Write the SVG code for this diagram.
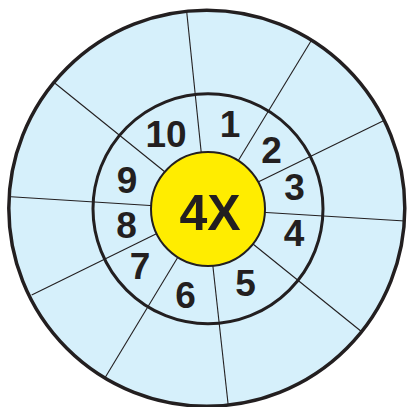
<svg xmlns="http://www.w3.org/2000/svg" width="409" height="407" viewBox="0 0 409 407">
<style>
.ring{fill:none;stroke:#231f20;stroke-width:3}
.spoke{stroke:#231f20;stroke-width:1.1;fill:none}
.num{font-family:"Liberation Sans","DejaVu Sans",Arial,sans-serif;font-weight:bold;font-size:37px;fill:#231f20;text-anchor:middle}
.hub{font-family:"Liberation Sans","DejaVu Sans",Arial,sans-serif;font-weight:bold;font-size:50px;fill:#231f20;text-anchor:middle}
</style>
<g id="outer-disc">
<circle cx="206.8" cy="208.2" r="198" fill="#d6f0fb"/>
</g>
<g id="connectors">
<line class="spoke" x1="186.7" y1="11.7" x2="202" y2="160"/>
<line class="spoke" x1="311" y1="41" x2="235" y2="166"/>
<line class="spoke" x1="385" y1="120" x2="252" y2="185"/>
<line class="spoke" x1="405" y1="221" x2="258" y2="212"/>
<line class="spoke" x1="362.3" y1="332.3" x2="248" y2="240"/>
<line class="spoke" x1="228.3" y1="406" x2="212" y2="258"/>
<line class="spoke" x1="105" y1="377.7" x2="181" y2="252"/>
<line class="spoke" x1="31.7" y1="295" x2="162" y2="231"/>
<line class="spoke" x1="11" y1="196.7" x2="158" y2="206"/>
<line class="spoke" x1="55" y1="83.3" x2="170" y2="176"/>
</g>
<g id="middle-ring">
<circle class="ring" cx="208" cy="208.8" r="115"/>
</g>
<g id="hub">
<circle cx="208" cy="209" r="57" fill="#ffed00" stroke="#231f20" stroke-width="2"/>
<text class="hub" x="210" y="230">4X</text>
</g>
<g id="outer-ring">
<circle cx="206.8" cy="208.2" r="198" fill="none" stroke="#231f20" stroke-width="3.5"/>
</g>
<g id="labels">
<text class="num" x="230" y="137">1</text>
<text class="num" x="271.5" y="162.7">2</text>
<text class="num" x="294.5" y="200">3</text>
<text class="num" x="294" y="245.7">4</text>
<text class="num" x="245.5" y="296">5</text>
<text class="num" x="185.5" y="308">6</text>
<text class="num" x="140" y="279">7</text>
<text class="num" x="126.5" y="237.7">8</text>
<text class="num" x="127" y="193">9</text>
<text class="num" x="166" y="146.7">10</text>
</g>
</svg>
